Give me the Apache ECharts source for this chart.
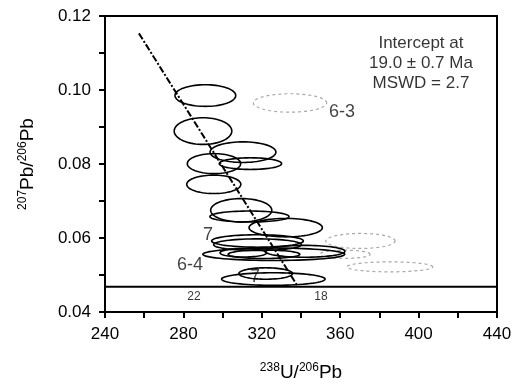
<!DOCTYPE html>
<html><head><meta charset="utf-8">
<script src="https://cdn.jsdelivr.net/npm/echarts@6/dist/echarts.min.js"></script>
<style>html,body{margin:0;padding:0;background:#fff}#c{width:522px;height:385px}</style>
</head><body><div id="c"></div>
<script>
// Solid (analysed spot) error ellipses: centre x, centre y, half-width x, half-height y
var ellX  = [291.2, 290.0, 310.4, 295.6, 314.2, 295.5, 309.5, 313.7, 332.2, 317.8, 317.8, 326.1, 310.6, 321.1, 342.0, 322.0, 325.9];
var ellY  = [0.0985,0.0889,0.0832,0.0801,0.0801,0.0745,0.0675,0.0658,0.0628,0.0592,0.0582,0.0556,0.0560,0.0556,0.0564,0.0504,0.0489];
var ellRx = [15.5, 14.7, 16.8, 13.6, 15.9, 13.8, 15.6, 20.2, 18.7, 23.4, 22.4, 36.2, 11.9, 18.3, 20.4, 13.7, 26.4];
var ellRy = [0.00292,0.0036,0.00278,0.0027,0.00157,0.00249,0.00316,0.00149,0.00249,0.00168,0.00157,0.00168,0.00114,0.00114,0.0016,0.00154,0.0017];
// Excluded (dashed grey) ellipses
var exX  = [334.4, 370.3, 362.5, 385.3];
var exY  = [0.0965, 0.0592, 0.0556, 0.0522];
var exRx = [18.7, 17.7, 12.8, 21.9];
var exRy = [0.00249, 0.00203, 0.0011, 0.00135];
// Discordia regression line
var discX = [257.3, 338.5];
var discY = [0.1153, 0.0468];
// Concordia (near-horizontal)
var concX = [240, 440];
var concY = [0.0468, 0.0468];
// Annotations
var annText = ['6-3', '7', '6-4', '7'];
var annX = [360.9, 292.6, 283.4, 316.5];
var annY = [0.0941, 0.0607, 0.0526, 0.0494];
var ageText = ['22', '18'];
var ageX = [285.4, 350.2];
var ageY = [0.0442, 0.0442];
var infoText = 'Intercept at\n19.0 \u00b1 0.7 Ma\nMSWD = 2.7';
var infoX = 401.2, infoY = 0.1072;
var xTicks = {min: 240, max: 440, interval: 40};
var yTicks = {min: 0.04, max: 0.12, interval: 0.02};

var FONT = "'Liberation Sans', Arial, sans-serif";

function ellipseRender(color, dash, lw) {
  return function (params, api) {
    var cx = api.value(0), cy = api.value(1), rx = api.value(2), ry = api.value(3);
    var pts = [];
    for (var i = 0; i < 72; i++) {
      var t = i / 72 * Math.PI * 2;
      pts.push(api.coord([cx + rx * Math.cos(t), cy + ry * Math.sin(t)]));
    }
    return {type: 'polygon', shape: {points: pts},
      style: {fill: 'none', stroke: color, lineWidth: lw, lineDash: dash}};
  };
}
function zip4(a, b, c, d) { return a.map(function (v, i) { return [v, b[i], c[i], d[i]]; }); }

var chart = echarts.init(document.getElementById('c'));
chart.setOption({
  animation: false,
  backgroundColor: '#fff',
  grid: {left: 105, right: 25, top: 16, bottom: 73, show: true, borderColor: '#000', borderWidth: 2,
    containLabel: false, outerBoundsMode: 'none'},
  xAxis: {
    type: 'value', min: xTicks.min, max: xTicks.max, interval: xTicks.interval,
    axisLine: {lineStyle: {color: '#000', width: 2}},
    axisTick: {length: 6, lineStyle: {color: '#000', width: 2}},
    minorTick: {show: true, splitNumber: 2, length: 6, lineStyle: {color: '#000', width: 2}},
    splitLine: {show: false},
    axisLabel: {color: '#000', fontSize: 17, fontFamily: FONT, margin: 14},
    name: '{sup|238}{n|U/}{sup|206}{n|Pb}', nameLocation: 'middle', nameGap: 50,
    nameTextStyle: {rich: {
      sup: {fontSize: 12, fontFamily: FONT, color: '#000', verticalAlign: 'top', lineHeight: 22},
      n: {fontSize: 19, fontFamily: FONT, color: '#000', lineHeight: 22}}}
  },
  yAxis: {
    type: 'value', min: yTicks.min, max: yTicks.max, interval: yTicks.interval,
    axisLine: {lineStyle: {color: '#000', width: 2}},
    axisTick: {length: 6, lineStyle: {color: '#000', width: 2}},
    minorTick: {show: true, splitNumber: 2, length: 6, lineStyle: {color: '#000', width: 2}},
    splitLine: {show: false},
    axisLabel: {color: '#000', fontSize: 17, fontFamily: FONT, margin: 14,
      formatter: function (v) { return v.toFixed(2); }},
    name: '{sup|207}{n|Pb/}{sup|206}{n|Pb}', nameLocation: 'middle', nameGap: 66,
    nameTextStyle: {rich: {
      sup: {fontSize: 12, fontFamily: FONT, color: '#000', verticalAlign: 'top', lineHeight: 22},
      n: {fontSize: 19, fontFamily: FONT, color: '#000', lineHeight: 22}}}
  },
  series: [
    {type: 'line', data: concX.map(function (x, i) { return [x, concY[i]]; }), symbol: 'none',
      lineStyle: {color: '#000', width: 2}, z: 3},
    {type: 'custom', renderItem: ellipseRender('#a8a8a8', [3, 3], 1.2), data: zip4(exX, exY, exRx, exRy), clip: true, z: 2},
    {type: 'custom', renderItem: ellipseRender('#000', null, 1.6), data: zip4(ellX, ellY, ellRx, ellRy), clip: true, z: 4},
    {type: 'line', data: discX.map(function (x, i) { return [x, discY[i]]; }), symbol: 'none',
      lineStyle: {color: '#000', width: 2, type: [7, 2, 2, 2]}, z: 5},
    {type: 'scatter', symbolSize: 0, z: 6,
      data: annX.map(function (x, i) { return {value: [x, annY[i]], name: annText[i]}; }),
      label: {show: true, position: 'inside', formatter: '{b}', color: '#111', fontSize: 18, fontFamily: FONT}},
    {type: 'scatter', symbolSize: 0, z: 6,
      data: ageX.map(function (x, i) { return {value: [x, ageY[i]], name: ageText[i]}; }),
      label: {show: true, position: 'inside', formatter: '{b}', color: '#000', fontSize: 12, fontFamily: FONT}},
    {type: 'scatter', symbolSize: 0, z: 6,
      data: [{value: [infoX, infoY], name: infoText}],
      label: {show: true, position: 'inside', formatter: '{b}', color: '#000', fontSize: 17, lineHeight: 20, align: 'center', fontFamily: FONT}}
  ]
});
</script></body></html>
